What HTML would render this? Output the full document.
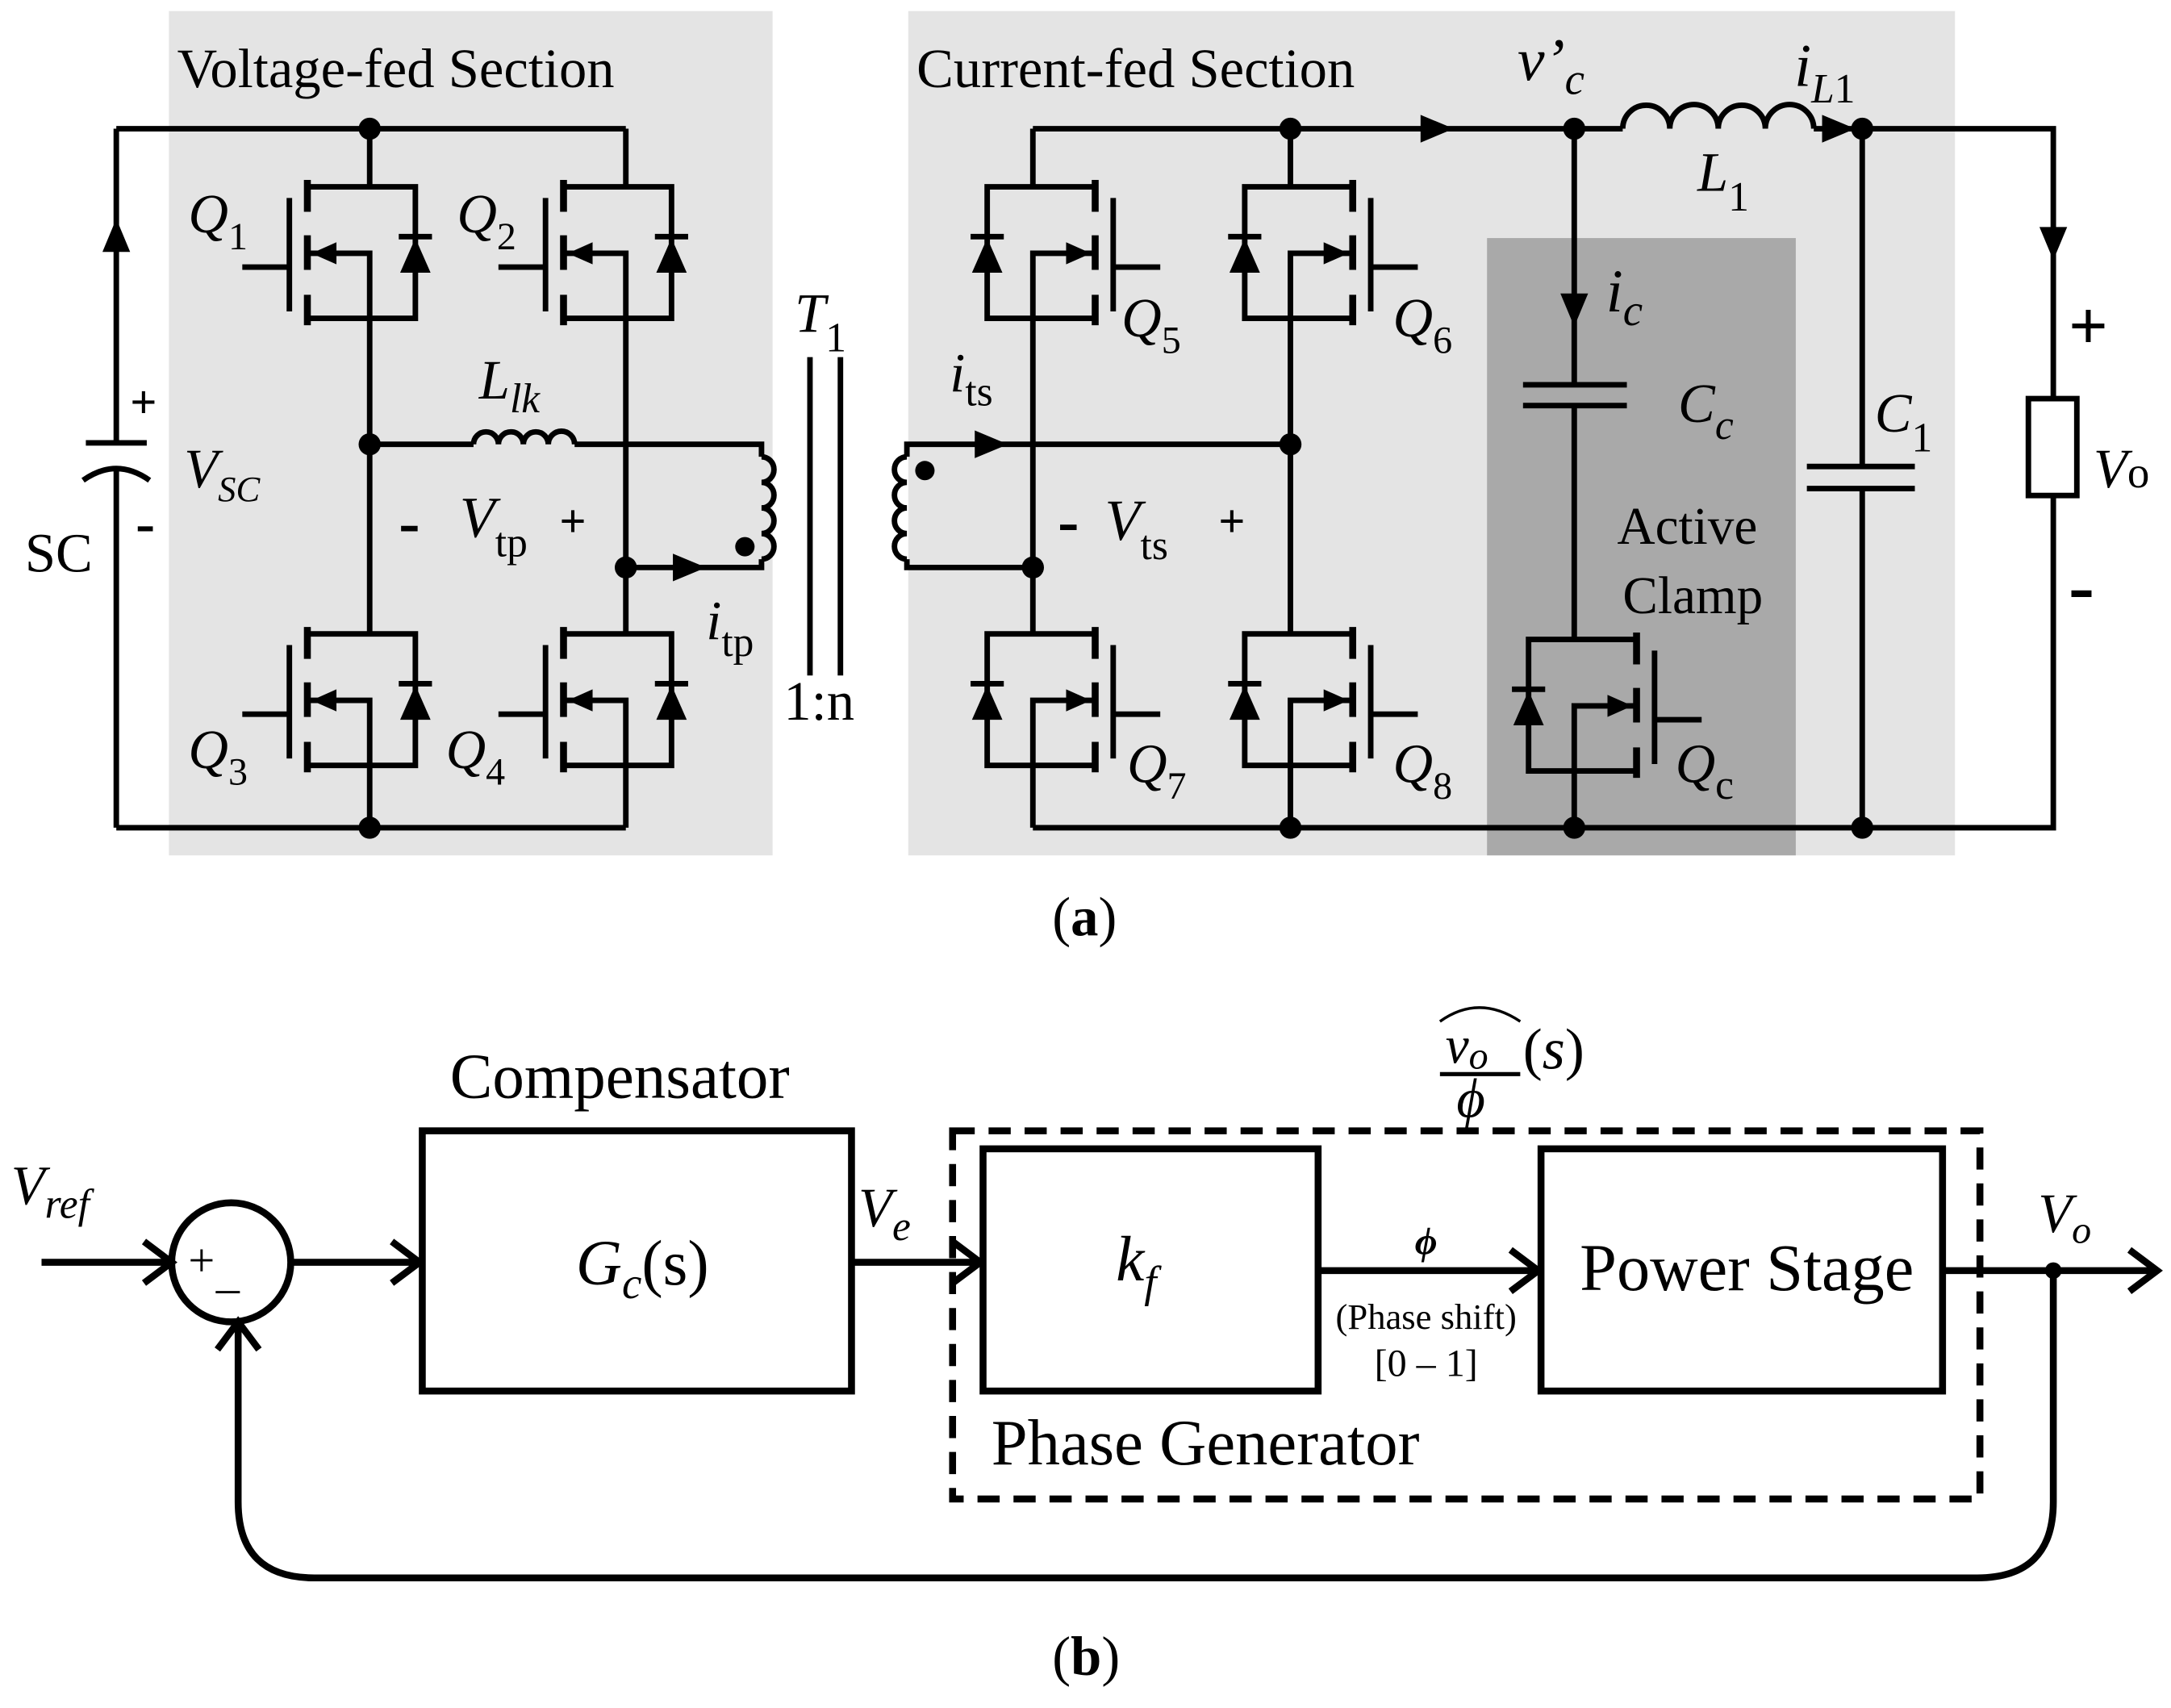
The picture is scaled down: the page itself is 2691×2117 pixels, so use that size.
<!DOCTYPE html>
<html><head><meta charset="utf-8"><style>
html,body{margin:0;padding:0;background:#fff;}
svg{display:block;}
text{font-family:"Liberation Serif",serif;fill:#000;}
</style></head><body>
<svg width="2691" height="2117" viewBox="0 0 1568 1234" preserveAspectRatio="none" xmlns="http://www.w3.org/2000/svg">
<defs>
<g id="mos" fill="none" stroke="#000" stroke-width="4">
<path d="M-45,0 H33 V95 H-45 M-45,48 H0 V95"/>
<path d="M-45,-5 V18 M-45,35 V60 M-45,78 V100" stroke-width="5"/>
<path d="M-58,8 V90 M-92,58 H-58" stroke-width="4"/>
<path d="M-42,48 L-24,40 L-24,56 Z" fill="#000" stroke="none"/>
<path d="M33,37 L22,62 L44,62 Z" fill="#000" stroke="none"/>
<path d="M21,36 H45"/>
</g>
</defs>
<rect x="122" y="8" width="436" height="610" fill="#e4e4e4"/>
<rect x="656" y="8" width="756" height="610" fill="#e4e4e4"/>
<rect x="1074" y="172" width="223" height="446" fill="#a9a9a9"/>

<g fill="none" stroke="#000" stroke-width="4">
<path d="M84,93 H452 M84,598 H452 M84,93 V318 M84,338 V598"/>
<path d="M62,320 H106"/>
<path d="M60,347 Q84,330 108,347"/>
<path d="M267,93 V135 M267,230 V458 M267,553 V598 M452,93 V135 M452,230 V458 M452,553 V598"/>
<path d="M267,321 H342 M415,321 H550 V330 M550,404 V410 H452"/>
<path d="M342,321 a9,9 0 0 1 18,0 a9,9 0 0 1 18,0 a9,9 0 0 1 18,0 a9,9 0 0 1 19,0"/>
<path d="M550,330 a9,9.25 0 0 1 0,18.5 a9,9.25 0 0 1 0,18.5 a9,9.25 0 0 1 0,18.5 a9,9.25 0 0 1 0,18.5"/>
<path d="M585,258 V488 M607,258 V488"/>
<path d="M655,330 a9,9.25 0 0 0 0,18.5 a9,9.25 0 0 0 0,18.5 a9,9.25 0 0 0 0,18.5 a9,9.25 0 0 0 0,18.5"/>
<path d="M655,330 V321 H932 M655,404 V410 H746"/>
<path d="M746,93 H1172 M1310,93 H1483 V288 M1483,358 V598 H746"/>
<path d="M1172,93 a17,17 0 0 1 34,0 a17,17 0 0 1 35,0 a17,17 0 0 1 34,0 a17,17 0 0 1 35,0"/>
<path d="M746,93 V135 M746,230 V458 M746,553 V598 M932,93 V135 M932,230 V458 M932,553 V598"/>
<path d="M1137,93 V278 M1137,293 V462 M1137,557 V598 M1100,278 H1175 M1100,293 H1175"/>
<path d="M1345,93 V337 M1345,353 V598 M1305,337 H1383 M1305,353 H1383"/>
<rect x="1465" y="288" width="35" height="70"/>
</g>
<use href="#mos" transform="translate(267,135)"/>
<use href="#mos" transform="translate(452,135)"/>
<use href="#mos" transform="translate(267,458)"/>
<use href="#mos" transform="translate(452,458)"/>
<use href="#mos" transform="translate(746,135) scale(-1,1)"/>
<use href="#mos" transform="translate(932,135) scale(-1,1)"/>
<use href="#mos" transform="translate(746,458) scale(-1,1)"/>
<use href="#mos" transform="translate(932,458) scale(-1,1)"/>
<use href="#mos" transform="translate(1137,462) scale(-1,1)"/>
<g fill="#000">
<circle cx="267" cy="93" r="8"/><circle cx="267" cy="598" r="8"/><circle cx="267" cy="321" r="8"/>
<circle cx="452" cy="410" r="8"/><circle cx="746" cy="410" r="8"/><circle cx="932" cy="321" r="8"/>
<circle cx="932" cy="93" r="8"/><circle cx="1137" cy="93" r="8"/><circle cx="1345" cy="93" r="8"/>
<circle cx="932" cy="598" r="8"/><circle cx="1137" cy="598" r="8"/><circle cx="1345" cy="598" r="8"/>
<circle cx="538" cy="395" r="7"/><circle cx="668" cy="340" r="7"/>
<path d="M84,158 L74,182 L94,182 Z"/>
<path d="M510,410 L486,400 L486,420 Z"/>
<path d="M728,321 L704,311 L704,331 Z"/>
<path d="M1050,93 L1026,83 L1026,103 Z"/>
<path d="M1340,93 L1316,83 L1316,103 Z"/>
<path d="M1137,236 L1127,212 L1147,212 Z"/>
<path d="M1483,188 L1473,164 L1493,164 Z"/>
</g>
<g font-size="34">
<text x="128" y="63" font-size="40">Voltage-fed Section</text>
<text x="662" y="63" font-size="40">Current-fed Section</text>
<text x="18" y="413" font-size="40">SC</text>
<text x="94" y="302" font-size="34" font-weight="bold">+</text>
<text x="98" y="392" font-size="42" font-weight="bold">-</text>
<text x="133" y="352" font-size="40" font-style="italic">V<tspan font-size="26" dy="10">SC</tspan></text>
<text x="136" y="168" font-size="40" font-style="italic">Q<tspan font-size="28" dy="12" font-style="normal">1</tspan></text>
<text x="330" y="168" font-size="40" font-style="italic">Q<tspan font-size="28" dy="12" font-style="normal">2</tspan></text>
<text x="136" y="555" font-size="40" font-style="italic">Q<tspan font-size="28" dy="12" font-style="normal">3</tspan></text>
<text x="322" y="555" font-size="40" font-style="italic">Q<tspan font-size="28" dy="12" font-style="normal">4</tspan></text>
<text x="346" y="288" font-size="40" font-style="italic">L<tspan font-size="30" dy="10">lk</tspan></text>
<text x="288" y="393" font-size="46" font-weight="bold">-</text>
<text x="332" y="388" font-size="42" font-style="italic">V<tspan font-size="30" dy="14" font-style="normal">tp</tspan></text>
<text x="404" y="388" font-size="34" font-weight="bold">+</text>
<text x="510" y="462" font-size="40" font-style="italic">i<tspan font-size="30" dy="12" font-style="normal">tp</tspan></text>
<text x="574" y="240" font-size="40" font-style="italic">T<tspan font-size="30" dy="14" font-style="normal">1</tspan></text>
<text x="566" y="520" font-size="40">1:n</text>
<text x="686" y="283" font-size="40" font-style="italic">i<tspan font-size="30" dy="10" font-style="normal">ts</tspan></text>
<text x="764" y="392" font-size="46" font-weight="bold">-</text>
<text x="798" y="390" font-size="42" font-style="italic">V<tspan font-size="30" dy="14" font-style="normal">ts</tspan></text>
<text x="880" y="388" font-size="34" font-weight="bold">+</text>
<text x="810" y="243" font-size="40" font-style="italic">Q<tspan font-size="28" dy="12" font-style="normal">5</tspan></text>
<text x="1006" y="243" font-size="40" font-style="italic">Q<tspan font-size="28" dy="12" font-style="normal">6</tspan></text>
<text x="814" y="565" font-size="40" font-style="italic">Q<tspan font-size="28" dy="12" font-style="normal">7</tspan></text>
<text x="1006" y="565" font-size="40" font-style="italic">Q<tspan font-size="28" dy="12" font-style="normal">8</tspan></text>
<text x="1210" y="565" font-size="40" font-style="italic">Q<tspan font-size="30" dy="12" font-style="normal">c</tspan></text>
<text x="1096" y="58" font-size="44" font-style="italic">v’<tspan font-size="32" dy="10">c</tspan></text>
<text x="1296" y="62" font-size="44" font-style="italic">i<tspan font-size="30" dy="12">L</tspan><tspan font-size="30" font-style="normal">1</tspan></text>
<text x="1226" y="138" font-size="40" font-style="italic">L<tspan font-size="30" dy="14" font-style="normal">1</tspan></text>
<text x="1160" y="225" font-size="44" font-style="italic">i<tspan font-size="32" dy="10">c</tspan></text>
<text x="1212" y="305" font-size="40" font-style="italic">C<tspan font-size="30" dy="12">c</tspan></text>
<text x="1168" y="393" font-size="38">Active</text>
<text x="1172" y="443" font-size="38">Clamp</text>
<text x="1354" y="312" font-size="40" font-style="italic">C<tspan font-size="30" dy="14" font-style="normal">1</tspan></text>
<text x="1494" y="252" font-size="50" font-weight="bold">+</text>
<text x="1494" y="442" font-size="56" font-weight="bold">-</text>
<text x="1512" y="352" font-size="40" font-style="italic">V<tspan font-size="32" font-style="normal">o</tspan></text>
<text x="760" y="676" font-size="40">(<tspan font-weight="bold">a</tspan>)</text>
<text x="760" y="1210" font-size="40">(<tspan font-weight="bold">b</tspan>)</text>
</g>

<g fill="none" stroke="#000" stroke-width="5">
<rect x="305" y="817" width="310" height="188"/>
<rect x="710" y="830" width="242" height="175"/>
<rect x="1113" y="830" width="290" height="175"/>
<rect x="688" y="817" width="742" height="266" stroke-dasharray="16,10"/>
<circle cx="167" cy="912" r="43"/>
<path d="M30,912 H124 M104,897 L124,912 L104,927"/>
<path d="M210,912 H303 M283,897 L303,912 L283,927"/>
<path d="M615,912 H708 M688,897 L708,912 L688,927"/>
<path d="M952,918 H1111 M1091,903 L1111,918 L1091,933"/>
<path d="M1403,918 H1558 M1538,903 L1558,918 L1538,933"/>
<path d="M1483,918 V1085 Q1483,1140 1428,1140 H227 Q172,1140 172,1085 V955 M157,975 L172,955 L187,975"/>
</g>
<circle cx="1483" cy="918" r="6" fill="#000"/>
<g font-family="'DejaVu Serif','Liberation Serif',serif">
<text x="8" y="870" font-size="40" font-style="italic">V<tspan font-size="30" dy="10">ref</tspan></text>
<text x="136" y="922" font-size="34">+</text>
<text x="156" y="930" font-size="34">_</text>
<text x="325" y="793" font-size="46">Compensator</text>
<text x="416" y="928" font-size="46"><tspan font-style="italic">G</tspan><tspan font-size="32" dy="10" font-style="italic">c</tspan><tspan dy="-10">(s)</tspan></text>
<text x="620" y="886" font-size="40" font-style="italic">V<tspan font-size="30" dy="10">e</tspan></text>
<text x="806" y="925" font-size="46" font-style="italic">k<tspan font-size="32" dy="12">f</tspan></text>
<text x="1030" y="906" font-size="28" font-style="italic" font-weight="bold" text-anchor="middle">ϕ</text>
<text x="1030" y="960" font-size="26" text-anchor="middle">(Phase shift)</text>
<text x="1030" y="994" font-size="28" text-anchor="middle">[0 – 1]</text>
<text x="1141" y="932" font-size="48">Power Stage</text>
<text x="716" y="1058" font-size="47">Phase Generator</text>
<text x="1472" y="890" font-size="40" font-style="italic">V<tspan font-size="28" dy="8">o</tspan></text>
<text x="1044" y="768" font-size="38" font-style="italic">v<tspan font-size="28" dy="4">o</tspan></text>
<path d="M1040,738 Q1068,718 1098,738" fill="none" stroke="#000" stroke-width="2"/>
<path d="M1040,776 H1098" stroke="#000" stroke-width="3"/>
<text x="1052" y="807" font-size="40" font-style="italic">ϕ</text>
<text x="1100" y="772" font-size="42">(<tspan font-style="italic">s</tspan>)</text>
</g>
</svg>
</body></html>
